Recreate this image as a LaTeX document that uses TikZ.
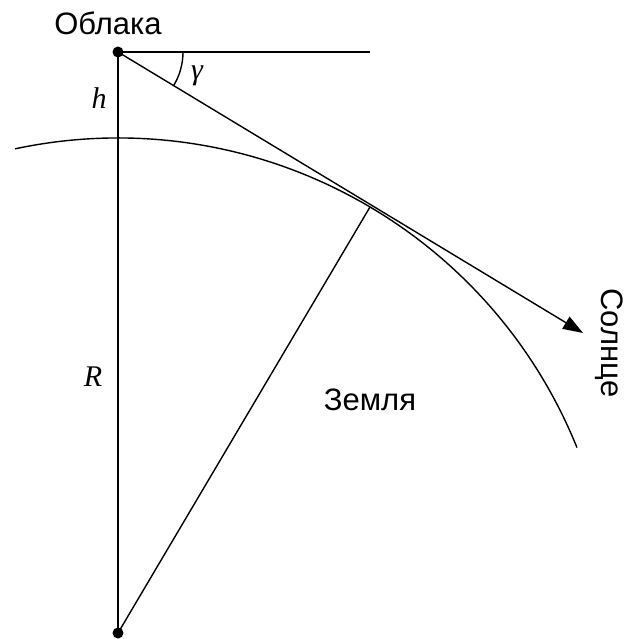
\documentclass[tikz,border=0pt]{standalone}
\usepackage{fontspec}
\newfontfamily\lsans{Liberation Sans}
\newfontfamily\tmsit{Liberation Serif Italic}
\usetikzlibrary{arrows.meta,calc}
\begin{document}
\begin{tikzpicture}[x=1pt,y=-1pt,
  ln/.style={line width=1.4pt,black},
  lbl/.style={font=\lsans\fontsize{31}{35}\selectfont,inner sep=0pt},
  mathlbl/.style={font=\tmsit\fontsize{30}{34}\selectfont,inner sep=0pt},
  dotc/.style={circle,fill=black,inner sep=0pt,minimum size=11pt}]
\useasboundingbox (0,0) rectangle (625,639);
\coordinate (C) at (118,52);
\coordinate (O) at (118,633);
\coordinate (T) at (370,207);
\coordinate (H) at (370,52);
\coordinate (S) at (583,333);
\coordinate (AL) at ($(O)+(-102:495)$);
% earth arc
\draw[ln] (AL) arc[start angle=-102,end angle=-22,radius=495];
% lines
\draw[ln] (C) -- (H);
\draw[ln] (C) -- (O);
\draw[ln] (O) -- (T);
\draw[ln,-{Triangle[length=20pt,width=14pt]}] (C) -- (S);
% angle
\draw[ln] ($(C)+(65,0)$) arc[start angle=0,end angle=31.6,radius=65];
\node[dotc] (c) at (C) {};
\node[dotc] (o) at (O) {};
% labels
\node[lbl] (cl) at (108,23) {Облака};
\node[lbl] (zm) at (370,400) {Земля};
\node[lbl,rotate=-90] (sn) at (609,343) {Солнце};
\node[mathlbl] (h) at (99,98) {h};
\node[mathlbl] (r) at (93,377) {R};
\node[mathlbl] (g) at (197,76) {γ};
\end{tikzpicture}
\end{document}
